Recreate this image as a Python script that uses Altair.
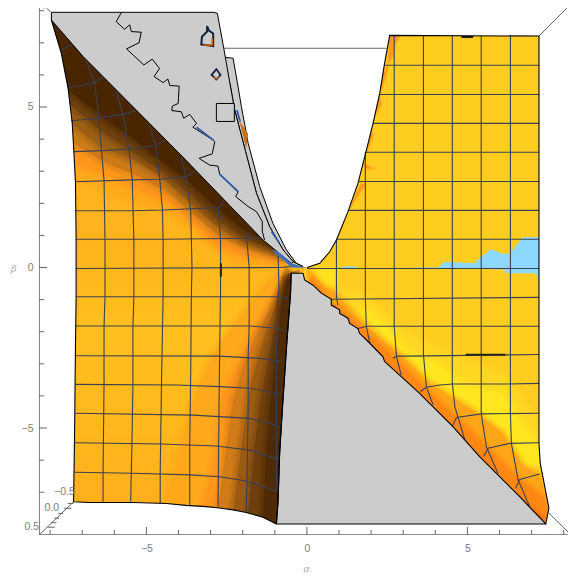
import altair as alt
import pandas as pd

# ---------- surface outlines (alpha, beta) ----------
LEFT_EDGE = [(-7.96,7.71),(-7.65,6.67),(-7.44,5.58),(-7.31,4.49),(-7.26,3.61),(-7.21,2.67),(-7.19,0.86),
             (-7.19,-0.70),(-7.19,-0.91),(-7.21,-2.47),(-7.24,-5.37),(-7.27,-7.30)]
BOTTOM_EDGE = [(-6.77,-7.32),(-5.42,-7.32),(-4.38,-7.35),(-3.76,-7.41),(-3.13,-7.45),(-2.72,-7.49),(-2.30,-7.55),
               (-1.89,-7.63),(-1.37,-7.78),(-0.95,-7.99)]
LEFT_INNER = [(-0.95,-7.99),(-0.90,-7.30),(-0.85,-5.79),(-0.76,-4.34),(-0.69,-3.30),(-0.62,-2.26),(-0.51,-0.81),(-0.49,-0.18)]
HYPOTENUSE = [(-7.96,7.71),(-6.97,6.57),(-3.96,3.54),(-1.37,0.86),(-0.48,0.13),(0.0,0.0)]
RIGHT_CURVE = [(0.0,0.0),(0.40,0.13),(0.71,0.49),(0.92,0.86),(1.28,1.74),(1.59,2.62),(1.83,3.56),(2.06,4.49),
               (2.27,5.43),(2.42,6.36),(2.58,7.23)]
RIGHT_EDGE = [(2.58,7.23),(7.23,7.21),(7.23,-5.48),(7.27,-6.10),(7.54,-7.50),(7.44,-7.99)]
STAIR = [(7.44,-7.99),(6.63,-7.14),(5.38,-5.89),(4.55,-4.96),(3.51,-3.92),(2.94,-3.40),(2.42,-2.93),(2.37,-2.78),
         (1.96,-2.36),(1.64,-2.05),(1.59,-1.90),(1.33,-1.74),(1.28,-1.58),(1.02,-1.43),(1.02,-1.32),(0.76,-1.17),
         (0.76,-0.99),(0.45,-0.80),(0.19,-0.55),(-0.07,-0.39),(-0.12,-0.18)]
GRAY_LOW_EXTRA = [(-0.48,-0.18)]
GRAY_TOP = [(-7.96,7.95),(-2.92,7.95),(-2.79,7.92),(-2.59,6.83),(-2.40,5.74),(-2.25,4.91),(-1.91,3.61),(-1.57,2.31),
            (-1.16,1.27),(-0.74,0.55),(-0.43,0.18),(-0.48,0.13),(-1.37,0.86),(-3.96,3.54),(-6.97,6.57),(-7.96,7.71)]
GRAY_OUTER = [(-2.59,6.55),(-2.30,6.52),(-2.18,5.84),(-2.04,5.01),(-1.83,3.87),(-1.47,2.52),(-1.06,1.38),(-0.64,0.55),
              (-0.33,0.13),(-0.12,0.03),(-0.43,0.18),(-0.74,0.55),(-1.16,1.27),(-1.57,2.31),(-1.91,3.61),(-2.25,4.91),(-2.40,5.74)]
WHITE_GAP = [(-2.79,7.92),(-2.59,6.55),(-2.30,6.52),(-2.18,5.84),(-2.04,5.01),(-1.83,3.87),(-1.47,2.52),(-1.06,1.38),(-0.64,0.55),
             (-0.33,0.13),(-0.12,0.03)]

# ---------- shading iso-curves, left surface, upper dark band ----------
UP_BANDS = [
 ("#FFA81C",[(-7.20,2.73),(-5.42,2.10),(-4.17,1.69),(-3.34,1.06),(-2.51,.34),(-2.30,.13),(-.85,.03)]),
 ("#FF961C",[(-7.23,3.25),(-6.14,2.83),(-5.21,2.41),(-4.27,2.00),(-3.44,1.27),(-2.72,.65),(-1.89,.34),(-.85,.18)]),
 ("#CC7A18",[(-7.26,3.87),(-6.25,3.25),(-5.21,2.83),(-4.38,2.36),(-3.60,1.69),(-2.72,.96),(-1.94,.60),(-.85,.29)]),
 ("#9A5E14",[(-7.34,4.49),(-6.45,3.76),(-5.42,3.35),(-4.48,2.78),(-3.65,2.00),(-2.82,1.27),(-1.89,.75),(-.74,.34)]),
 ("#6E400E",[(-7.41,5.11),(-6.45,4.28),(-5.52,3.66),(-4.58,3.04),(-3.75,2.36),(-2.92,1.58),(-1.99,.91),(-.74,.44)]),
 ("#4A2600",[(-7.49,5.58),(-6.45,4.75),(-5.52,4.08),(-4.58,3.35),(-3.75,2.73),(-2.92,1.95),(-1.99,1.17),(-1.37,.86)]),
]
# lower dark band
LOW_BANDS = [
 ("#FFA81C",[(-4.38,-7.35),(-3.96,-5.58),(-3.44,-3.82),(-2.92,-2.67),(-2.09,-1.53),(-1.37,-.60),(-.85,-.08)]),
 ("#FF961C",[(-3.24,-7.45),(-2.92,-6.10),(-2.66,-4.13),(-2.30,-3.30),(-1.68,-2.05),(-1.11,-1.12),(-.74,-.39)]),
 ("#D07A18",[(-2.77,-7.49),(-2.51,-5.58),(-2.30,-4.13),(-1.99,-3.09),(-1.52,-1.95),(-1.00,-1.01),(-.69,-.39)]),
 ("#9A5A12",[(-2.30,-7.55),(-2.04,-5.58),(-1.83,-4.02),(-1.57,-2.99),(-1.26,-1.95),(-.90,-.91),(-.64,-.29)]),
 ("#6E3F0C",[(-1.83,-7.64),(-1.63,-5.58),(-1.42,-4.02),(-1.21,-2.88),(-.95,-1.64),(-.74,-.70),(-.59,-.18)]),
 ("#4E2A06",[(-1.37,-7.78),(-1.26,-5.58),(-1.11,-3.92),(-.95,-2.47),(-.80,-1.22),(-.64,-.39)]),
]
# right surface shading
RIGHT_SOFT = [(.09,-.03),(.87,-.03),(.92,-.6),(1.85,-.91),(2.99,-1.95),(4.66,-2.78),(6.21,-3.40),(7.23,-4.85),(7.23,-5.48),
              (7.27,-6.10),(7.54,-7.50),(7.44,-7.99),(0.0,-7.99)]
RIGHT_BRIGHT = [(1.96,-1.43),(2.58,-1.95),(3.10,-2.67),(4.03,-2.99),(4.97,-3.71),(6.11,-3.92),(6.73,-4.96),(7.20,-5.48),
                (7.27,-6.10),(6.73,-6.2),(6.11,-5.06),(5.28,-4.54),(5.07,-4.44),(4.45,-3.92),(3.62,-3.30),(2.99,-2.67),
                (2.48,-2.21),(1.80,-1.43)]
RIGHT_BRIGHT2 = [(.2,-.1),(.87,-.1),(.87,-.75),(.65,-.85)]
RIGHT_OR1 = [(.15,-.15),(.55,-.6),(.81,-.70),(1.70,-1.69),(2.99,-2.78),(3.83,-3.61),(5.18,-4.44),(6.11,-5.17),(6.73,-6.15),
             (7.27,-6.46),(7.4,-6.9),(7.54,-7.50),(7.44,-7.99),(0.0,-7.99)]
RIGHT_OR2 = [(.1,-.3),(.5,-.75),(.8,-1.1),(1.33,-1.53),(2.58,-2.67),(3.62,-3.71),(4.66,-4.65),(5.59,-5.58),(6.53,-6.52),
             (7.36,-7.14),(7.5,-7.5),(7.44,-7.99),(0.0,-7.99)]
RIGHT_OR3 = [(1.0,-1.45),(2.0,-2.5),(3.3,-3.85),(4.3,-4.85),(5.4,-5.95),(6.4,-7.0),(7.3,-7.75),(7.44,-7.99),(0.0,-7.99)]
LIGHT_BLUE = [(3.10,0.0),(4.09,0.0),(4.29,.18),(5.23,.13),(5.43,.34),(5.75,.57),(6.11,.42),(6.32,.44),(6.73,.94),(7.23,.94),
              (7.23,-.44),(7.13,-.18),(6.16,-.18),(6.16,-.06),(5.28,-.04),(4.14,-.03)]
LIGHT_BLUE2 = [(1.07,.03),(1.54,.03),(1.54,-.02),(1.07,-.02)]
EDGE_PATCHES = [
 [(2.58,7.23),(2.89,7.21),(2.73,6.93),(2.68,6.57),(2.53,6.36)],
 [(2.54,6.31),(2.44,5.90),(2.29,5.48),(2.30,5.90)],
 [(2.25,5.37),(2.32,5.11),(2.11,4.70)],
 [(2.01,4.23),(2.06,4.13),(1.87,3.61)],
 [(1.77,3.25),(2.03,3.09),(1.83,3.09)],
 [(1.70,2.62),(1.80,2.57),(1.49,2.10),(1.33,1.84)],
]

# ---------- mesh lines ----------
MESH_LEFT = [
 [(-6.92,6.57),(-6.61,5.74),(-6.48,4.65),(-6.40,3.62),(-6.32,2.73),(-6.29,.86),(-6.29,-.91),(-6.32,-1.84),(-6.32,-3.61),(-6.35,-6.41),(-6.35,-7.30)],
 [(-5.94,5.53),(-5.73,4.75),(-5.54,3.66),(-5.44,2.73),(-5.39,.86),(-5.39,-.91),(-5.42,-1.84),(-5.42,-3.61),(-5.45,-5.48),(-5.49,-7.30)],
 [(-4.90,4.41),(-4.71,3.77),(-4.58,2.73),(-4.50,1.79),(-4.48,.86),(-4.48,-.91),(-4.53,-3.61),(-4.57,-6.41),(-4.57,-7.35)],
 [(-3.91,3.45),(-3.75,2.73),(-3.62,1.79),(-3.58,.03),(-3.60,-.91),(-3.62,-3.30),(-3.65,-5.48),(-3.65,-7.40)],
 [(-2.77,1.90),(-2.69,.86),(-2.69,-.70),(-2.72,-2.78),(-2.74,-4.65),(-2.77,-7.45)],
 [(-1.89,1.06),(-1.80,.03),(-1.80,-1.84),(-1.83,-2.78),(-1.83,-4.65),(-1.87,-6.62),(-1.89,-7.61)],
 [(-.90,.55),(-.87,-.70),(-.90,-.91),(-.93,-1.95),(-.95,-2.67),(-.95,-4.02),(-.95,-5.89),(-.93,-6.93)],
 [(-7.65,6.78),(-7.13,7.03)],
 [(-7.44,5.60),(-6.66,5.74),(-6.04,6.15)],
 [(-7.34,4.57),(-6.50,4.65),(-5.73,4.77),(-5.11,4.96)],
 [(-7.26,3.61),(-6.40,3.64),(-5.52,3.69),(-4.74,3.79),(-4.38,3.97)],
 [(-7.21,2.67),(-5.47,2.73),(-4.58,2.75),(-3.75,2.83),(-3.44,3.04)],
 [(-7.21,1.77),(-5.42,1.77),(-4.48,1.79),(-2.72,1.87),(-2.51,2.21)],
 [(-7.19,.88),(-4.48,.88),(-1.78,.91),(-1.37,.94)],
 [(-7.19,-.03),(-.85,0.0),(-.48,.03)],
 [(-7.19,-.91),(-.90,-.91),(-.59,-.96)],
 [(-7.21,-1.82),(-1.78,-1.82),(-.90,-1.90),(-.59,-2.0)],
 [(-7.21,-2.75),(-2.72,-2.76),(-1.47,-2.83),(-.74,-2.93)],
 [(-7.21,-3.64),(-4.06,-3.66),(-2.72,-3.71),(-1.78,-3.76),(-.74,-3.97)],
 [(-7.21,-4.54),(-3.55,-4.60),(-1.78,-4.70),(-.79,-4.96)],
 [(-7.24,-5.46),(-4.53,-5.50),(-2.82,-5.56),(-1.78,-5.69),(-.85,-6.0)],
 [(-7.24,-6.38),(-5.42,-6.41),(-3.65,-6.46),(-2.72,-6.52),(-1.89,-6.65),(-.90,-6.98)],
]
MESH_RIGHT = [
 [(6.34,7.21),(6.34,-4.54),(6.37,-5.48),(6.58,-6.62),(6.94,-7.45)],
 [(5.43,7.21),(5.43,-4.54),(5.59,-5.58),(5.95,-6.41)],
 [(4.53,7.21),(4.53,-3.61),(4.61,-4.34),(4.92,-5.37)],
 [(3.63,7.21),(3.63,-2.71),(3.72,-3.71),(3.93,-4.28)],
 [(2.72,7.21),(2.72,-1.83),(2.79,-2.78),(2.94,-3.35)],
 [(1.82,3.59),(1.82,-.93),(1.85,-1.83),(1.96,-2.36)],
 [(.92,.86),(.92,-.93),(.97,-1.17)],
 [(2.42,6.30),(7.23,6.30)],[(2.27,5.39),(7.23,5.39)],[(2.06,4.49),(7.23,4.49)],[(1.83,3.59),(7.23,3.59)],
 [(1.59,2.68),(7.23,2.68)],[(1.28,1.78),(7.23,1.78)],[(.92,.88),(7.23,.88)],[(.0,-.03),(7.23,-.03)],
 [(.76,-.99),(7.23,-.93)],
 [(1.59,-1.90),(1.85,-1.83),(7.23,-1.83)],
 [(2.68,-2.83),(2.81,-2.76),(3.10,-2.76),(7.23,-2.71)],
 [(3.53,-3.87),(3.72,-3.73),(4.14,-3.66),(4.55,-3.63),(6.21,-3.63),(7.23,-3.61)],
 [(4.52,-4.96),(4.66,-4.67),(5.43,-4.56),(7.23,-4.54)],
 [(5.51,-5.89),(5.64,-5.63),(6.32,-5.48),(7.23,-5.46)],
 [(6.50,-6.88),(6.63,-6.60),(7.25,-6.43)],
]
THICK_MARKS = [[(4.81,7.18),(5.18,7.18)],[(4.95,-2.72),(6.19,-2.72)],[(-2.68,.13),(-2.68,-.29)]]

# ---------- contour details on the grey sheet ----------
CONTOUR = [(-5.78,7.94),(-5.94,7.66),(-5.68,7.42),(-5.52,7.56),(-5.47,7.35),(-5.16,7.33),(-5.23,7.00),(-5.62,6.81),(-5.08,6.31),
           (-4.82,6.49),(-4.59,6.20),(-4.76,5.95),(-4.48,5.76),(-4.33,5.87),(-4.27,5.67),(-3.98,5.65),(-4.01,5.11),(-4.19,5.03),
           (-4.21,4.89),(-3.91,4.85),(-3.84,4.65),(-3.65,4.77),(-3.44,4.49),(-3.55,4.37),(-2.92,3.97),(-2.87,3.92),(-2.95,3.54),
           (-3.36,3.40),(-3.03,3.19),(-2.77,3.16),(-2.72,2.91),(-2.14,2.36),(-2.22,2.21),(-1.83,1.90),(-1.57,1.74),(-1.39,1.43),
           (-1.39,1.12),(-1.32,.86)]
BLUE_SEGS = [[(-3.44,4.37),(-2.92,3.97)],[(-2.72,2.91),(-2.14,2.36)],[(-1.10,1.12),(-.85,.75)],[(-2.18,4.90),(-2.08,4.55)]]
BLUE_TIP = [(-1.11,.55),(-.90,.49),(-.48,.13),(-.02,-.01),(-.48,0.0)]
LOOP_BIG = [(-3.11,7.52),(-3.11,7.35),(-3.27,7.19),(-3.29,6.95),(-2.92,6.90),(-2.92,7.29),(-3.05,7.38)]
LOOP_BIG_OR = [(-3.22,6.93),(-2.95,6.93),(-2.95,7.15)]
LOOP_SMALL = [(-2.82,6.18),(-2.97,6.00),(-2.82,5.86),(-2.69,6.00)]
LOOP_SMALL_OR = [(-2.90,5.93),(-2.82,5.88),(-2.74,5.95)]
ORANGE_WEDGE = [(-2.11,4.57),(-1.83,4.17),(-1.89,3.71)]
SQUARE = [(-2.82,5.11),(-2.26,5.11),(-2.26,4.55),(-2.82,4.55)]

# ---------- frame ----------
X_TICKS_MINOR = [-8,-7,-6,-4,-3,-2,-1,1,2,3,4,6,7,8]
Y_TICKS_MINOR = [-7,-6,-4,-3,-2,-1,1,2,3,4,6,7,8]
TICKS_MAJOR = [-5,0,5]
BACK_LINE = [(-2.59,6.83),(2.48,6.83)]
DIAG_TL = [(-8.11,8.08),(-7.98,7.96)]
DIAG_TR = [(7.23,7.21),(8.10,8.08)]
DIAG_BR = [(7.54,-7.65),(8.134,-8.24)]
DIAG_BL = [(-8.34,-8.33),(-7.27,-7.30)]
Z_TICKS = [[(-8.08,-8.09),(-7.85,-8.09)],[(-7.97,-7.95),(-7.80,-7.95)],[(-7.87,-7.81),(-7.72,-7.81)],
           [(-7.75,-7.66),(-7.60,-7.66)],[(-7.57,-7.50),(-7.34,-7.50)],[(-7.45,-7.35),(-7.27,-7.35)]]
Z_LABELS = [("\u22120.5",-7.55,-6.98),("0.0",-7.95,-7.49),("0.5",-8.57,-8.07)]

W, H = 529, 527
XS = alt.Scale(domain=[-8.346, 8.134], nice=False, zero=False)
YS = alt.Scale(domain=[-8.333, 8.084], nice=False, zero=False)
axis_style = dict(grid=False, domain=False, ticks=False, values=TICKS_MAJOR, labelColor="#808080", labelFontSize=10.5,
                  labelFont="Liberation Sans", titleFont="Liberation Serif", titleFontStyle="italic",
                  titleFontWeight="normal", titleColor="#A8A8A8", titleFontSize=11, titleAngle=0,
                  titleAlign="center", titleBaseline="middle")
X = alt.X("x:Q", scale=XS, title="\u03b1", axis=alt.Axis(labelPadding=8, titleX=267, titleY=33, **axis_style))
Y = alt.Y("y:Q", scale=YS, title="\u03b2", axis=alt.Axis(labelPadding=6, titleX=-26, titleY=260, **axis_style))
GRID = "#3A4152"
FRAME = "#666666"
GRAY = "#CCCCCC"


def frame(pts):
    return pd.DataFrame([{"x": p[0], "y": p[1], "i": i} for i, p in enumerate(pts)])


def poly(pts, fill, stroke="transparent", sw=0.0):
    return alt.Chart(frame(pts)).mark_line(fill=fill, stroke=stroke, strokeWidth=sw, interpolate="linear-closed",
                                           clip=True).encode(x=X, y=Y, order="i:Q")


def halo(pts, color, sw, op):
    return alt.Chart(frame(pts)).mark_line(fill="transparent", stroke=color, strokeWidth=sw, strokeOpacity=op,
                                           interpolate="linear-closed", clip=True).encode(x=X, y=Y, order="i:Q")


def soft(pts, color, wide=11):
    return [halo(pts, color, wide, 0.22), halo(pts, color, wide * 0.55, 0.3), poly(pts, color)]


def line(pts, color, sw=1.0, clip=True):
    return alt.Chart(frame(pts)).mark_line(color=color, strokeWidth=sw, clip=clip).encode(x=X, y=Y, order="i:Q")


layers = []

# surfaces
left_grad = alt.Gradient(gradient="linear", x1=0, y1=0, x2=0, y2=1, stops=[
    alt.GradientStop(color="#FFB01C", offset=0.0), alt.GradientStop(color="#FFB41C", offset=0.45),
    alt.GradientStop(color="#FFC01E", offset=0.62), alt.GradientStop(color="#FFB81C", offset=0.8),
    alt.GradientStop(color="#FFAC1C", offset=1.0)])
left_outline = LEFT_EDGE + BOTTOM_EDGE + LEFT_INNER + [(-0.12, -0.18), (0.0, 0.0)] + HYPOTENUSE[-2::-1]
right_outline = RIGHT_CURVE + RIGHT_EDGE[1:] + STAIR + [(0.0, 0.0)]
layers.append(poly(left_outline, left_grad))
layers.append(poly(right_outline, "#FFCC20"))

# right surface shading
layers += soft(RIGHT_SOFT, "#FFD622", 12)
layers += soft(RIGHT_BRIGHT, "#FFE61E", 14)
layers += soft(RIGHT_BRIGHT2, "#FFE21E", 8)
layers += soft(RIGHT_OR1, "#FFA518", 9)
layers += soft(RIGHT_OR2, "#FF8814", 8)
layers += soft(RIGHT_OR3, "#EE6A0E", 6)
layers.append(poly(LIGHT_BLUE, "#8CD8FF"))
layers.append(poly(LIGHT_BLUE2, "#8CD8FF"))
for patch in EDGE_PATCHES:
    layers += soft(patch, "#FF9A1C", 3)

# left surface shading
for color, curve in UP_BANDS:
    pts = [p for p in LEFT_EDGE if p[1] > curve[0][1]] + curve + [(-0.4, 0.3), (-4.0, 4.5)]
    layers += soft(pts, color, 11)
for color, curve in LOW_BANDS:
    pts = curve + [(-0.4, -0.3), (-0.5, -7.99)] + [p for p in BOTTOM_EDGE[::-1] if p[0] > curve[0][0]]
    layers += soft(pts, color, 11)

# white outside the surfaces, hiding the soft halos
layers.append(poly(LEFT_EDGE + BOTTOM_EDGE + [(7.44, -7.99), (7.44, -8.33), (-8.34, -8.33), (-8.34, 8.08), (-7.96, 8.08)], "white"))
layers.append(poly(RIGHT_EDGE[1:] + [(7.44, -8.33), (8.134, -8.33), (8.134, 7.21)], "white"))
layers.append(poly(WHITE_GAP + RIGHT_CURVE + [(2.58, 8.08), (-2.79, 8.08)], "white"))
layers.append(poly(RIGHT_EDGE[:2] + [(8.134, 7.21), (8.134, 8.08), (2.58, 8.08)], "white"))
layers.append(poly([(-7.96, 7.95), (-2.79, 7.95), (-2.79, 8.08), (-7.96, 8.08)], "white"))

# box lines
for seg in [BACK_LINE, DIAG_TL, DIAG_TR, DIAG_BR, DIAG_BL] + Z_TICKS:
    layers.append(line(seg, FRAME, 1.0))
layers.append(line([(-8.346, 8.084), (-8.346, -8.333)], FRAME, 1.6))
layers.append(line([(-8.346, -8.333), (8.134, -8.333)], FRAME, 1.6))

# mesh
for seg in MESH_LEFT + MESH_RIGHT:
    layers.append(line(seg, GRID, 1.1))
for seg in THICK_MARKS:
    layers.append(line(seg, "#222222", 2.0))

# grey sheets
layers.append(poly(GRAY_OUTER, GRAY, "black", 1.0))
layers.append(poly(GRAY_TOP, GRAY, "black", 1.0))
layers.append(poly(STAIR + GRAY_LOW_EXTRA + LEFT_INNER[::-1], GRAY, "black", 1.1))

# outlines
layers.append(line(LEFT_EDGE + BOTTOM_EDGE, "black", 1.1))
layers.append(line(LEFT_INNER, "black", 1.1))
layers.append(line(RIGHT_CURVE + RIGHT_EDGE, "black", 1.1))

# details on the grey sheet
layers.append(poly(ORANGE_WEDGE, "#C8701A"))
layers.append(poly(BLUE_TIP, "#3C70C0"))
layers.append(line(CONTOUR, "black", 1.0))
for seg in BLUE_SEGS:
    layers.append(line(seg, "#2E5AA8", 1.8))
layers.append(poly(LOOP_BIG, GRAY, "#14233C", 2.0))
layers.append(line(LOOP_BIG_OR, "#D06A10", 1.6))
layers.append(poly(LOOP_SMALL, GRAY, "#14233C", 1.8))
layers.append(line(LOOP_SMALL_OR, "#D06A10", 1.4))
layers.append(poly(SQUARE, GRAY, "black", 1.0))

# ticks
layers.append(alt.Chart(pd.DataFrame({"x": X_TICKS_MINOR})).mark_rule(color=FRAME).encode(
    x=X, y=alt.value(H), y2=alt.value(H - 5)))
layers.append(alt.Chart(pd.DataFrame({"x": TICKS_MAJOR})).mark_rule(color=FRAME).encode(
    x=X, y=alt.value(H), y2=alt.value(H - 8)))
layers.append(alt.Chart(pd.DataFrame({"y": Y_TICKS_MINOR})).mark_rule(color=FRAME).encode(
    y=Y, x=alt.value(0), x2=alt.value(5)))
layers.append(alt.Chart(pd.DataFrame({"y": TICKS_MAJOR})).mark_rule(color=FRAME).encode(
    y=Y, x=alt.value(0), x2=alt.value(8)))

# z-axis labels
z_df = pd.DataFrame(Z_LABELS, columns=["t", "x", "y"])
layers.append(alt.Chart(z_df).mark_text(color="#808080", fontSize=10.5, font="Liberation Sans", clip=False).encode(
    x=X, y=Y, text="t:N"))

chart = alt.layer(*layers).properties(
    width=W, height=H,
    autosize=alt.AutoSizeParams(type="none"),
    padding={"left": 31, "top": 0, "right": 0, "bottom": 38},
).configure_view(stroke=None)

chart.save("out.html", embed_options={"renderer": "svg", "actions": False})
